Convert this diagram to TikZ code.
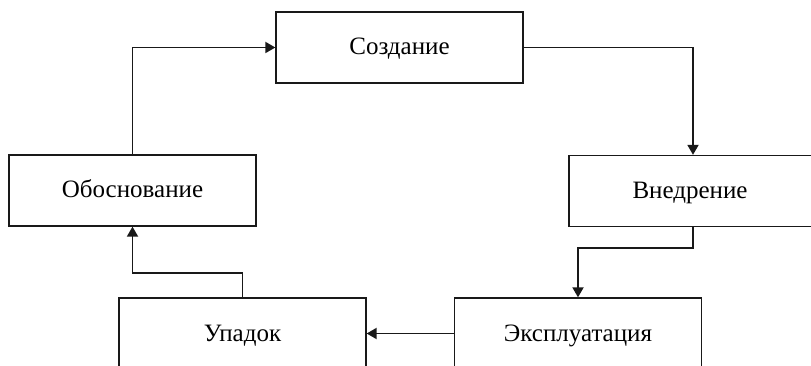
\documentclass[tikz,border=0pt]{standalone}
\usepackage{fontspec}
\setmainfont{Liberation Serif}
\usetikzlibrary{arrows.meta}
\begin{document}
\begin{tikzpicture}[x=1pt,y=-1pt,
  stage/.style={draw=black!90, line width=1.3pt, minimum width=247pt, minimum height=71pt,
    inner sep=0pt, text height=17pt, text depth=2pt, font=\fontsize{25}{29}\selectfont},
  flow/.style={draw=black!90, line width=1.8pt, -{Triangle[length=10pt,width=11pt]}}]
  \useasboundingbox[clip] (0,0) rectangle (811,366);
  \fill[white] (0,0) rectangle (811,366);
  % stages of the cycle
  \node[stage] (sozd) at (399.5,47.5) {Создание};
  \node[stage] (obos) at (132.5,190.5) {Обоснование};
  \node[stage, minimum width=248pt] (vned) at (693,191) {\hspace*{-6pt}Внедрение};
  \node[stage] (expl) at (578,333.5) {Эксплуатация};
  \node[stage] (upad) at (242.5,333.5) {Упадок};
  % connectors between stages
  \draw[flow] (obos.north) |- (sozd.west);
  \draw[flow] (sozd.east) -| (vned.north);
  \draw[flow] (vned.south) -- ++(0,21) -| (expl.north);
  \draw[flow] (expl.west) -- (upad.east);
  \draw[flow] (upad.north) -- ++(0,-24) -| (obos.south);
\end{tikzpicture}
\end{document}
